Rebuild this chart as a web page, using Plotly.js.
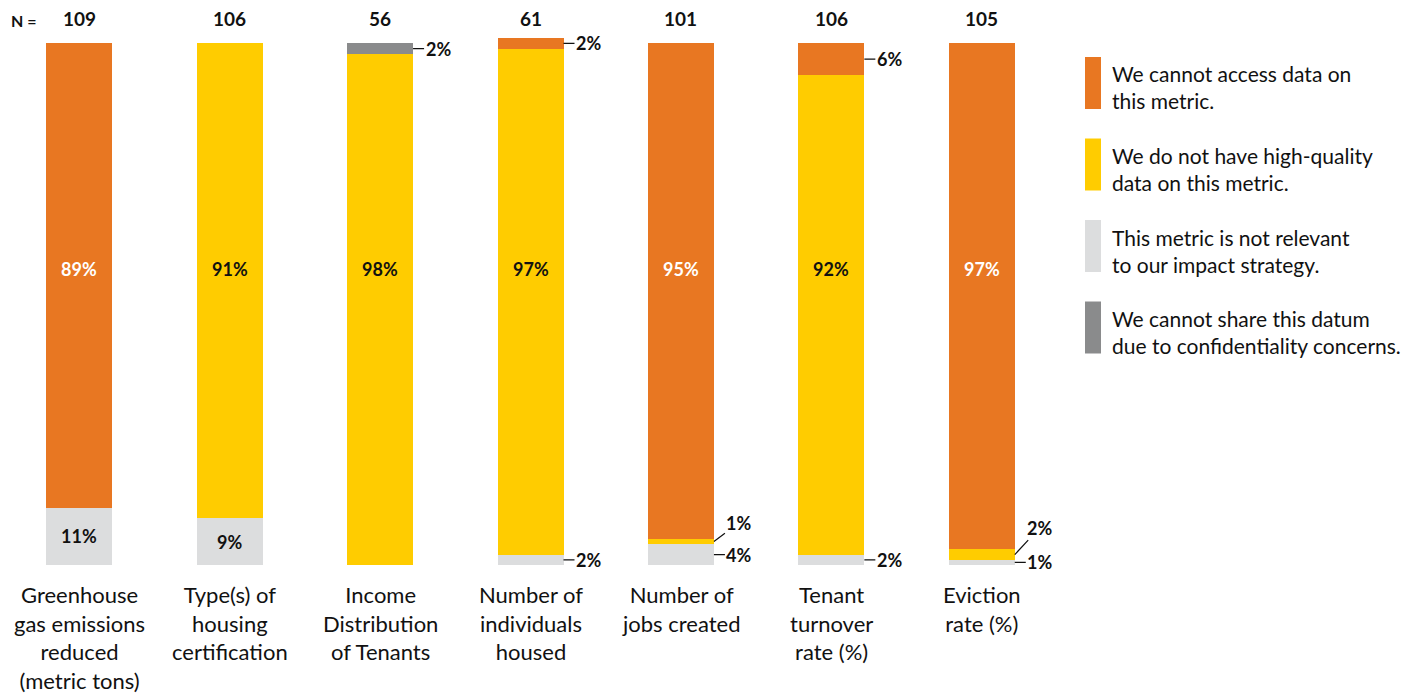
<!DOCTYPE html>
<html><head><meta charset="utf-8">
<script src="https://cdn.plot.ly/plotly-3.0.1.min.js"></script>
<style>html,body{margin:0;padding:0;background:#fff}#chart{width:1415px;height:693px}</style>
</head><body><div id="chart"></div>
<script>
// ---- DATA ----
const categories = [
  "Greenhouse<br>gas emissions<br>reduced<br>(metric tons)",
  "Type(s) of<br>housing<br>certification",
  "Income<br>Distribution<br>of Tenants",
  "Number of<br>individuals<br>housed",
  "Number of<br>jobs created",
  "Tenant<br>turnover<br>rate (%)",
  "Eviction<br>rate (%)"
];
const nValues = [109, 106, 56, 61, 101, 106, 105];
const notRelevant    = [11, 9, 0, 2, 4, 2, 1];
const notHighQuality = [0, 91, 98, 97, 1, 92, 2];
const cannotAccess   = [89, 0, 0, 2, 95, 6, 97];
const confidential   = [0, 0, 2, 0, 0, 0, 0];
const seriesNames = [
  "This metric is not relevant<br>to our impact strategy.",
  "We do not have high-quality<br>data on this metric.",
  "We cannot access data on<br>this metric.",
  "We cannot share this datum<br>due to confidentiality concerns."
];

// ---- STYLE ----
const seriesValues = [notRelevant, notHighQuality, cannotAccess, confidential];
const seriesColors = ["#DCDDDE", "#FFCC00", "#E87722", "#8A8B8C"];
const seriesTextColors = ["#111", "#111", "#fff", "#111"];
const legendOrder = [2, 1, 0, 3];
const FONT = "Lato, 'Open Sans', sans-serif";
const TXT = "#111";
const barWidth = 0.4387;
const mainLabelY = 56.7;
const L = 4, T = 33, PW = 1053, PH = 532, BOTTOM = T + PH;
const px2x = p => (p - L) / PW;
const px2y = p => (BOTTOM - p) / PH;
// vertical lift (px) of outside labels that would collide
const outLift = {"4-1": -19, "6-1": -27};

const xIdx = categories.map((_, i) => i);

const traces = seriesValues.map((vals, s) => ({
  type: "bar",
  x: xIdx,
  y: vals,
  width: barWidth,
  name: seriesNames[s],
  marker: {color: seriesColors[s], line: {width: 0}},
  hoverinfo: "none",
  showlegend: false
}));

const annotations = [];
xIdx.forEach(i => {
  let base = 0;
  const vals = seriesValues.map(v => v[i]);
  const maxV = Math.max(...vals);
  seriesValues.forEach((v, s) => {
    const val = v[i];
    if (val > 0) {
      const mid = base + val / 2;
      const txt = "<b>" + val + "%</b>";
      if (val === maxV) {
        annotations.push({x: i, y: mainLabelY, xref: "x", yref: "y", text: txt, showarrow: false,
          xanchor: "center", yanchor: "middle",
          font: {family: FONT, size: 18, color: seriesTextColors[s]}});
      } else if (val >= 8) {
        annotations.push({x: i, y: mid, xref: "x", yref: "y", text: txt, showarrow: false,
          xanchor: "center", yanchor: "middle",
          font: {family: FONT, size: 18, color: seriesTextColors[s]}});
      } else {
        const lift = outLift[i + "-" + s] || 0;
        annotations.push({x: i + barWidth / 2, y: mid, xref: "x", yref: "y", text: txt,
          showarrow: true, arrowhead: 0, arrowwidth: 1.2, arrowcolor: TXT, standoff: 0,
          ax: 25, ay: lift, axref: "pixel", ayref: "pixel",
          font: {family: FONT, size: 18, color: TXT}});
      }
    }
    base += val;
  });
  // N labels
  annotations.push({x: i, y: px2y(19), xref: "x", yref: "paper", text: "<b>" + nValues[i] + "</b>",
    showarrow: false, xanchor: "center", yanchor: "middle", font: {family: FONT, size: 19, color: TXT}});
  // category labels
  annotations.push({x: i, y: 0, xref: "x", yref: "paper", xanchor: "center", yanchor: "top", yshift: -14,
    text: categories[i], showarrow: false, align: "center",
    font: {family: FONT, size: 22, color: TXT}});
});
annotations.push({x: px2x(9), y: px2y(20), xref: "paper", yref: "paper", text: "<b>N =</b>",
  xanchor: "left", yanchor: "middle",
  showarrow: false, font: {family: FONT, size: 16, color: TXT}});

// custom legend
const shapes = [];
legendOrder.forEach((s, k) => {
  const top = 57 + k * 81.5;
  shapes.push({type: "rect", xref: "paper", yref: "paper",
    x0: px2x(1085), x1: px2x(1101), y0: px2y(top), y1: px2y(top + 52),
    fillcolor: seriesColors[s], line: {width: 0}});
  annotations.push({x: px2x(1110), y: px2y(top + 30.5), xref: "paper", yref: "paper",
    xanchor: "left", yanchor: "middle", align: "left", text: seriesNames[s], showarrow: false,
    font: {family: FONT, size: 21, color: TXT}});
});

const layout = {
  width: 1415, height: 693, autosize: false,
  margin: {l: L, r: 1415 - L - PW, t: T, b: 693 - BOTTOM, pad: 0},
  paper_bgcolor: "#fff", plot_bgcolor: "#fff",
  barmode: "stack",
  showlegend: false,
  xaxis: {type: "linear", range: [-0.5, 6.5], showgrid: false, zeroline: false, showticklabels: false, showline: false, ticks: ""},
  yaxis: {range: [0, 102], showgrid: false, zeroline: false, showticklabels: false, showline: false, ticks: ""},
  annotations: annotations,
  shapes: shapes,
  font: {family: FONT, color: TXT}
};
Plotly.newPlot("chart", traces, layout, {displayModeBar: false, staticPlot: true});
</script>
</body></html>
